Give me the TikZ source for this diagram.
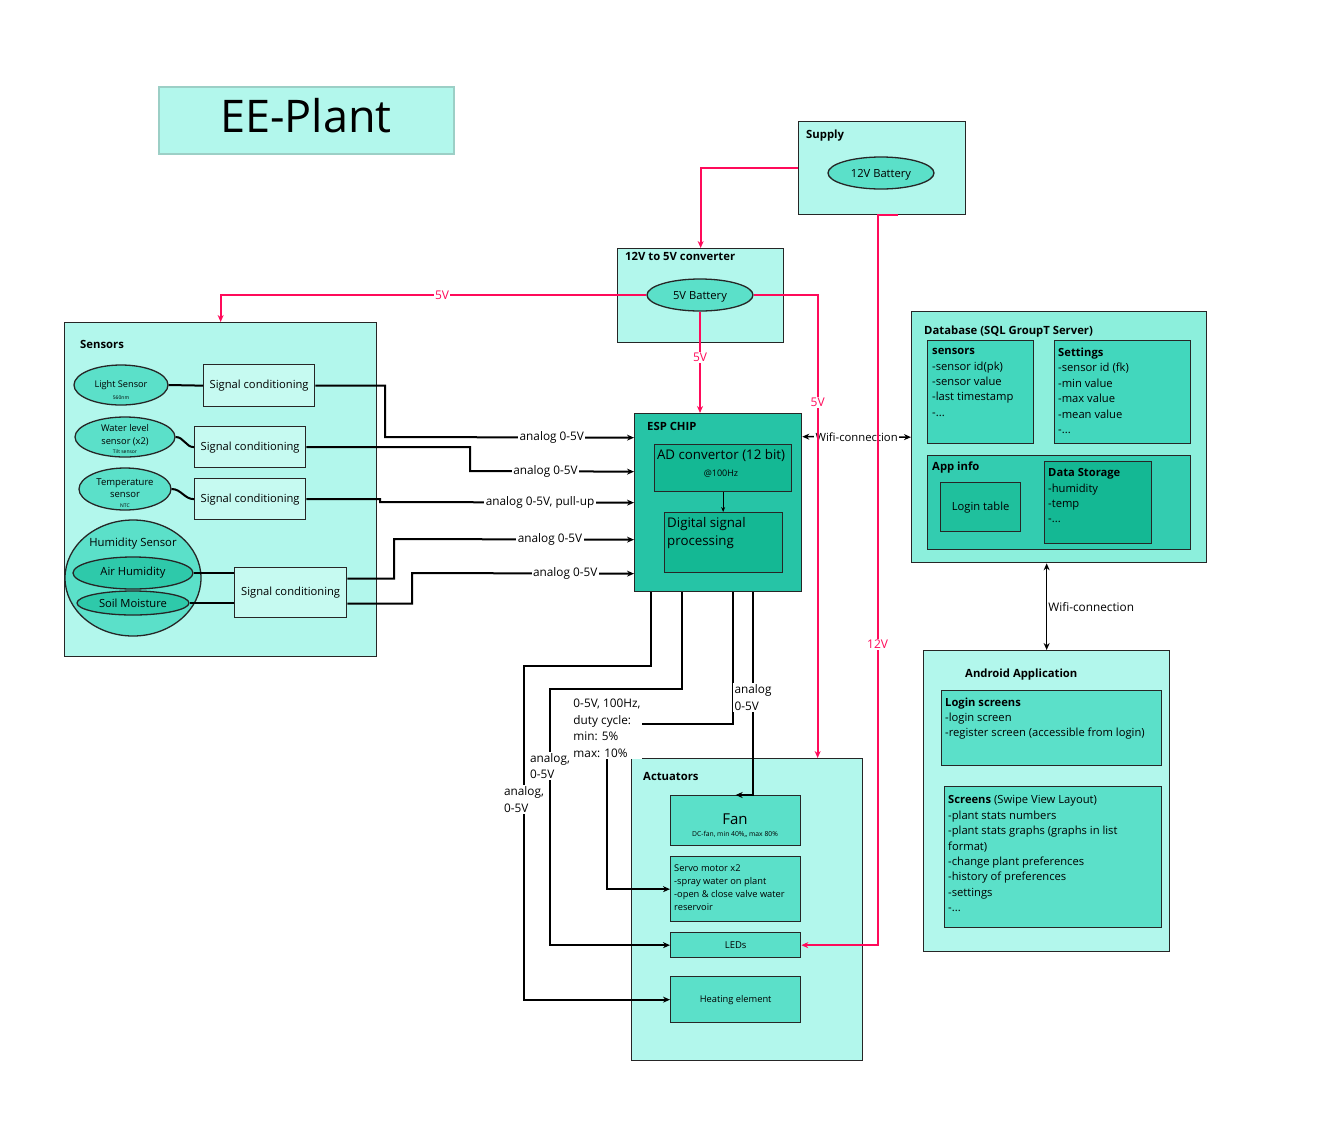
\documentclass[tikz,border=0pt]{standalone}
\usepackage{fontspec}
\setmainfont{Open Sans}
\usetikzlibrary{arrows.meta,shapes.geometric}

\definecolor{pale}{HTML}{B2F7EC}
\definecolor{paler}{HTML}{C6FAF1}
\definecolor{dbbg}{HTML}{8CEFDC}
\definecolor{mint}{HTML}{5BE0C9}
\definecolor{chip}{HTML}{26C4A6}
\definecolor{deep}{HTML}{14B894}
\definecolor{table}{HTML}{42D7BD}
\definecolor{appbg}{HTML}{33CCB0}
\definecolor{login}{HTML}{1FC09D}
\definecolor{soil}{HTML}{2EC9AA}
\definecolor{pwrred}{HTML}{FF0A5A}
\definecolor{titleedge}{HTML}{9CCFC6}

\begin{document}
\begin{tikzpicture}[x=1pt,y=-1pt,
  box/.style={draw=black!85,line width=1.3pt,inner sep=0pt,anchor=north west},
  oval/.style={ellipse,draw=black!85,line width=1.3pt,fill=mint,inner sep=0pt,align=center},
  hdr/.style={anchor=base west,inner sep=0pt,font=\fontsize{11.3}{13}\selectfont\bfseries},
  txt/.style={anchor=north west,inner sep=0pt,align=left,font=\fontsize{11.2}{15.3}\selectfont},
  sigcond/.style={box,fill=paler,font=\fontsize{11.2}{13}\selectfont},
  wire/.style={line width=2pt},
  sig/.style={line width=2pt,-{Stealth[length=7pt,width=6pt]}},
  wifi/.style={line width=1.5pt,{Stealth[length=7pt,width=6pt]}-{Stealth[length=7pt,width=6pt]}},
  pwr/.style={draw=pwrred,line width=2pt,-{Stealth[length=7pt,width=6pt]}},
  lbl/.style={fill=white,inner sep=1.5pt,align=left,font=\fontsize{11.8}{16.5}\selectfont},
  plbl/.style={fill=white,inner sep=1pt,text=pwrred,font=\fontsize{12}{14}\selectfont}]

\useasboundingbox (0,0) rectangle (1322,1120);

% title
\node[box,draw=titleedge,line width=1.5pt,fill=pale,minimum width=295,minimum height=67] (title) at (158,86) {};
\node[font=\fontsize{45}{50}\selectfont] (titlet) at (306,116) {EE-Plant};

% power supply
\node[box,fill=pale,minimum width=167,minimum height=93] (supply) at (798,121) {};
\node[hdr] (supplyt) at (806,138) {Supply};
\node[oval,minimum width=106,minimum height=32,text depth=0pt,font=\fontsize{11.2}{13}\selectfont] (bat12) at (881,173) {12V Battery};

\node[box,fill=pale,minimum width=166,minimum height=94] (conv) at (617,248) {};
\node[hdr] (convt) at (625,260) {12V to 5V converter};
\node[oval,minimum width=106,minimum height=32,text depth=0pt,font=\fontsize{11.2}{13}\selectfont] (bat5) at (700,295) {5V Battery};

% sensors
\node[box,fill=pale,minimum width=312,minimum height=334] (sens) at (64,322) {};
\node[hdr] (senst) at (80,348) {Sensors};

\node[oval,minimum width=94,minimum height=40] (light) at (121,385) {};
\node[align=center,inner sep=0pt,font=\fontsize{9.2}{11.5}\selectfont] (lightt) at (121,390) {Light Sensor\\{\fontsize{5}{6}\selectfont 560nm}};
\node[sigcond,minimum width=111,minimum height=42] (sc1) at (203,364) {Signal conditioning};

\node[oval,minimum width=100,minimum height=40] (water) at (125,437) {};
\node[align=center,inner sep=0pt,font=\fontsize{9.3}{13}\selectfont] (watert) at (125,439) {Water level\\sensor (x2)\\[-3.5pt]{\fontsize{5}{6}\selectfont Tilt sensor}};
\node[sigcond,minimum width=111,minimum height=41] (sc2) at (194,426) {Signal conditioning};

\node[oval,minimum width=92,minimum height=42] (temp) at (125,489) {};
\node[align=center,inner sep=0pt,font=\fontsize{9.5}{12.5}\selectfont] (tempt) at (125,493) {Temperature\\sensor\\[-2.5pt]{\fontsize{5}{6}\selectfont NTC}};
\node[sigcond,minimum width=111,minimum height=41] (sc3) at (194,478) {Signal conditioning};

\node[oval,minimum width=136,minimum height=116] (hum) at (133,578) {};
\node[inner sep=0pt,font=\fontsize{11.3}{13}\selectfont] (humt) at (133,544) {Humidity Sensor};
\node[oval,fill=soil,minimum width=120,minimum height=32,font=\fontsize{11.2}{13}\selectfont] (air) at (133,573) {Air Humidity};
\node[oval,fill=soil,minimum width=112,minimum height=24,font=\fontsize{11.2}{13}\selectfont] (soil) at (133,603) {Soil Moisture};
\node[sigcond,minimum width=112,minimum height=50] (sc4) at (234,567) {Signal conditioning};

\draw[wire] (light.east) -- (sc1.west);
\draw[wire] (water.east) to[out=0,in=180] (sc2.west);
\draw[wire] (temp.east) to[out=0,in=180] (sc3.west);
\draw[wire] (air.east) -- (sc4.west |- air.east);
\draw[wire] (soil.east) -- (sc4.west |- soil.east);

% esp chip
\node[box,fill=chip,minimum width=167,minimum height=178] (esp) at (634,413) {};
\node[hdr] (espt) at (647,430) {ESP CHIP};
\node[box,fill=deep,minimum width=137,minimum height=47] (adc) at (654,444) {};
\node[font=\fontsize{13.3}{15}\selectfont,inner sep=0pt] (adct) at (721,455) {AD convertor (12 bit)};
\node[font=\fontsize{9}{10}\selectfont,inner sep=0pt] (adcsub) at (721,474) {@100Hz};
\node[box,fill=deep,minimum width=118,minimum height=60] (dsp) at (664,512) {};
\node[txt,font=\fontsize{13.3}{18}\selectfont] (dspt) at (667,517) {Digital signal\\processing};
\draw[line width=1pt,-{Stealth[length=5pt,width=4pt]}] (adc.south) -- (adc.south |- dsp.north);

\draw[sig] (sc1.east) -| (385,437) -- node[lbl,pos=0.67] {analog 0-5V} ([yshift=65pt]esp.west);
\draw[sig] (sc2.east) -| (470,471) -- node[lbl,pos=0.46] {analog 0-5V} ([yshift=31pt]esp.west);
\draw[sig] (sc3.east) -| (380,502) -- node[lbl,pos=0.63] {analog 0-5V, pull-up} (esp.west);
\draw[sig] ([yshift=14pt]sc4.east) -| (394,539) -- node[lbl,pos=0.65] {analog 0-5V} ([yshift=-37pt]esp.west);
\draw[sig] ([yshift=-11pt]sc4.east) -| (412,573) -- node[lbl,pos=0.69] {analog 0-5V} ([yshift=-71pt]esp.west);

% database
\node[box,fill=dbbg,minimum width=295,minimum height=251] (db) at (911,311) {};
\node[hdr] (dbt) at (924,334) {Database (SQL GroupT Server)};
\node[box,fill=table,minimum width=106,minimum height=103] (tsens) at (927,340) {};
\node[txt] (tsenst) at (932,348.5) {\textbf{sensors}\\-sensor id(pk)\\-sensor value\\-last timestamp\\-...};
\node[box,fill=table,minimum width=136,minimum height=103] (tset) at (1054,340) {};
\node[txt,font=\fontsize{11.2}{15.5}\selectfont] (tsett) at (1058,347.5) {\textbf{Settings}\\-sensor id (fk)\\-min value\\-max value\\-mean value\\-...};
\node[box,fill=appbg,minimum width=263,minimum height=94] (appinfo) at (927,455) {};
\node[hdr] (appinfot) at (932,470) {App info};
\node[box,fill=login,minimum width=80,minimum height=49,font=\fontsize{11.2}{13}\selectfont] (logtab) at (940,482) {Login table};
\node[box,fill=deep,minimum width=107,minimum height=82] (store) at (1044,461) {};
\node[txt] (storet) at (1048,468.5) {\textbf{Data Storage}\\-humidity\\-temp\\-...};

\draw[wifi] ([yshift=66pt]esp.east) -- node[lbl,font=\fontsize{11.3}{13}\selectfont] (wifi1) {Wifi-connection} (db.west);

% android app
\node[box,fill=pale,minimum width=246,minimum height=301] (andr) at (923,650) {};
\node[hdr] (andrt) at (965,677) {Android Application};
\node[box,fill=mint,minimum width=220,minimum height=75] (logscr) at (941,690) {};
\node[txt,font=\fontsize{11.2}{15}\selectfont] (logscrt) at (945,697.5) {\textbf{Login screens}\\-login screen\\-register screen (accessible from login)};
\node[box,fill=mint,minimum width=217,minimum height=141] (scr) at (944,786) {};
\node[txt,font=\fontsize{11.2}{15.4}\selectfont] (scrt) at (948,795.5) {\textbf{Screens} (Swipe View Layout)\\-plant stats numbers\\-plant stats graphs (graphs in list\\format)\\-change plant preferences\\-history of preferences\\-settings\\-...};

\draw[wifi] (andr.north |- db.south) -- node[right,inner sep=1pt,font=\fontsize{11.8}{13}\selectfont] (wifi2) {Wifi-connection} (andr.north);

% actuators
\node[box,fill=pale,minimum width=231,minimum height=302] (act) at (631,758) {};
\node[hdr] (actt) at (643,780) {Actuators};
\node[box,fill=mint,minimum width=130,minimum height=50] (fan) at (670,795) {};
\node[font=\fontsize{15}{17}\selectfont,inner sep=0pt] (fant) at (735,819) {Fan};
\node[font=\fontsize{6.8}{8}\selectfont,inner sep=0pt] (fansub) at (735,834) {DC-fan, min 40\%,, max 80\%};
\node[box,fill=mint,minimum width=130,minimum height=65] (servo) at (670,856) {};
\node[txt,font=\fontsize{9.3}{13}\selectfont] (servot) at (674,864.5) {Servo motor x2\\-spray water on plant\\-open \& close valve water\\reservoir};
\node[box,fill=mint,minimum width=130,minimum height=25,font=\fontsize{9.5}{11}\selectfont] (leds) at (670,932) {LEDs};
\node[box,fill=mint,minimum width=130,minimum height=46,font=\fontsize{9.3}{11}\selectfont] (heat) at (670,976) {Heating element};

\draw[sig] ([xshift=17pt]esp.south west) |- (524,666) |- node[lbl,pos=0.2] {analog,\\0-5V} (heat.west);
\draw[sig] ([xshift=48pt]esp.south west) |- (550,689) |- node[lbl,pos=0.15] {analog,\\0-5V} (leds.west);
\draw[sig] ([xshift=99pt]esp.south west) |- (607,724) node[lbl,yshift=-4.5pt] (pwm) {0-5V, 100Hz,\\duty cycle:\\min: 5\%\\max: 10\%} |- (servo.west);
\draw[sig] ([xshift=119pt]esp.south west) |- node[lbl,pos=0.26] {analog\\0-5V} (fan.north);

% power lines
\draw[pwr] (supply.west) -| (conv.north);
\draw[pwr] (bat5.west) -| node[plbl,pos=0.24] {5V} (sens.north);
\draw[pwr] (bat5.south) -- node[plbl,pos=0.45] {5V} (bat5.south |- esp.north);
\draw[pwr] (bat5.east) -| node[plbl,pos=0.616] {5V} ([xshift=70.5pt]act.north);
\draw[pwr] ([xshift=16pt]supply.south) -- ([xshift=-4.5pt]supply.south) |- node[plbl,pos=0.294] {12V} (leds.east);

\end{tikzpicture}
\end{document}
